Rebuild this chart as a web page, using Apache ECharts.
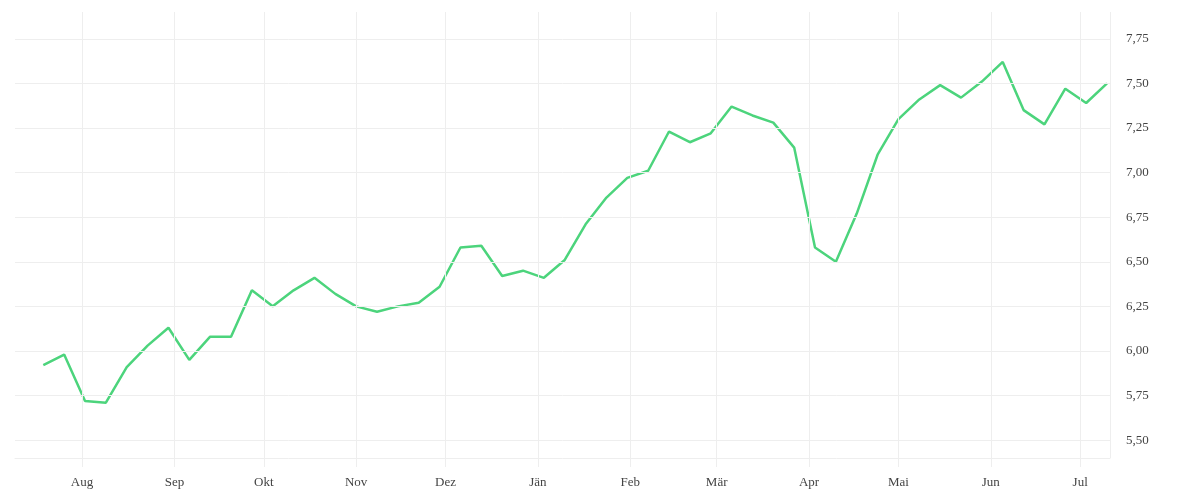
<!DOCTYPE html>
<html><head><meta charset="utf-8">
<script src="https://cdn.jsdelivr.net/npm/echarts@6/dist/echarts.min.js"></script>
<style>html,body{margin:0;padding:0;background:#fff}#c{width:1200px;height:500px}</style>
</head><body><div id="c"></div>
<script>
const startDate = '2023-07-19';
const values = [5.92,5.98,5.72,5.71,5.91,6.03,6.13,5.95,6.08,6.08,6.34,6.25,6.34,6.41,6.32,6.25,6.22,6.25,6.27,6.36,6.58,6.59,6.42,6.45,6.41,6.51,6.71,6.86,6.97,7.01,7.23,7.17,7.22,7.37,7.32,7.28,7.14,6.58,6.50,6.77,7.10,7.30,7.41,7.49,7.42,7.51,7.62,7.35,7.27,7.47,7.39,7.50];
const monthNames = ['Jän','Feb','Mär','Apr','Mai','Jun','Jul','Aug','Sep','Okt','Nov','Dez'];
const monthStarts = ['2023-08-01','2023-09-01','2023-10-01','2023-11-01','2023-12-01','2024-01-01','2024-02-01','2024-03-01','2024-04-01','2024-05-01','2024-06-01','2024-07-01'];
const yTicks = [5.5,5.75,6,6.25,6.5,6.75,7,7.25,7.5,7.75];

const t0 = Date.parse(startDate + 'T00:00:00Z');
const data = values.map((v,i)=>[t0 + i*7*86400000, v]);
const monthTs = monthStarts.map(d=>Date.parse(d+'T00:00:00Z'));
const xMin = Date.parse('2023-07-09T12:00:00Z'), xMax = Date.parse('2024-07-11T00:00:00Z');
const font = '"Liberation Serif", serif';
const chart = echarts.init(document.getElementById('c'));
chart.setOption({
  animation:false,
  grid:{left:15,right:90,top:12,bottom:42},
  xAxis:{type:'value', min:xMin, max:xMax, scale:true,
    splitLine:{show:false},
    axisLine:{show:true,lineStyle:{color:'#eeeeee'}},
    axisTick:{show:true,customValues:monthTs,length:9,lineStyle:{color:'#eeeeee'}},
    axisLabel:{customValues:monthTs,margin:18,color:'#444',fontFamily:font,fontSize:13,
      formatter:v=>monthNames[new Date(v).getUTCMonth()]}},
  yAxis:{type:'value',position:'right',min:5.4,max:7.9,
    splitLine:{show:false},axisLine:{show:false},axisTick:{show:false},
    axisLabel:{customValues:yTicks,margin:16,color:'#444',fontFamily:font,fontSize:13,
      formatter:v=>v.toFixed(2).replace('.',',')}},
  series:[{type:'line',data:data,showSymbol:false,symbol:'none',
    lineStyle:{color:'#4cd47c',width:2.5},itemStyle:{color:'#4cd47c'},
    markLine:{silent:true,symbol:'none',label:{show:false},
      lineStyle:{color:'#eeeeee',type:'solid',width:1},
      data:[...yTicks.map(v=>({yAxis:v})),...monthTs.map(t=>({xAxis:t})),{xAxis:xMax}]},
    z:3}]
});
</script></body></html>
